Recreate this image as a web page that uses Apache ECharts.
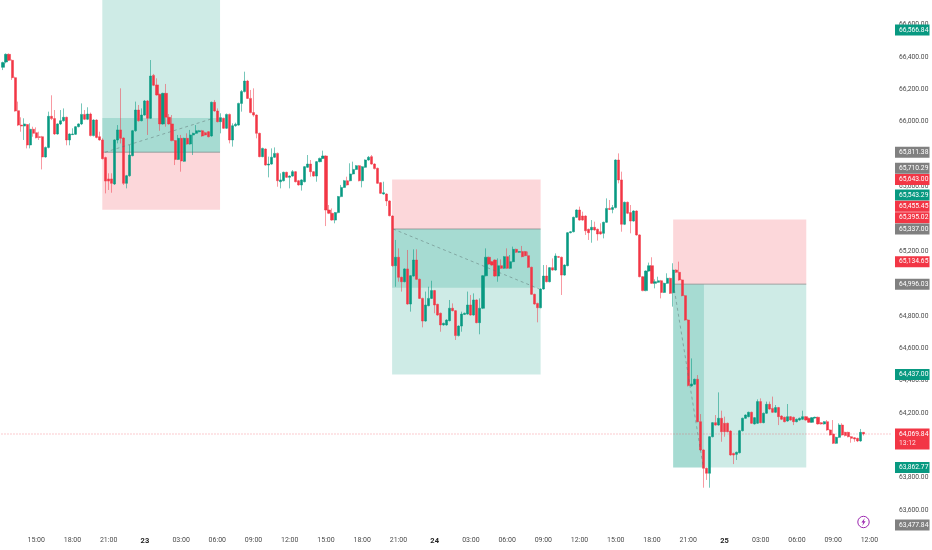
<!DOCTYPE html>
<html>
<head>
<meta charset="utf-8">
<style>html,body{margin:0;padding:0;background:#fff}#c{width:932px;height:550px}</style>
<script src="https://cdn.jsdelivr.net/npm/echarts@6/dist/echarts.min.js"></script>
</head>
<body>
<div id="c"></div>
<script>
const opens = [
66336,66369,66416,66379,66272,66068,65979,65973,65982,65856,
65953,65932,65907,65907,65782,65841,66033,66019,65924,65986,
66006,66027,65887,65920,65922,65969,65986,66045,66015,66047,
65914,66010,65907,65887,65778,65646,65646,65615,65887,65949,
65899,65619,65666,65790,65944,66072,66006,66041,66128,66021,
66286,66227,66169,65986,66175,66027,65986,65883,65767,65897,
65755,65897,65862,65918,65928,65938,65944,65932,65938,65912,
66120,66066,66000,66021,65959,66045,65887,65975,65979,66113,
66186,66251,66144,66056,66041,65928,65784,65831,65732,65738,
65780,65804,65629,65635,65687,65656,65664,65691,65635,65609,
65629,65718,65738,65691,65664,65753,65773,65788,65454,65434,
65392,65438,65537,65594,65635,65635,65677,65705,65728,65635,
65718,65763,65784,65738,65712,65623,65553,65553,65510,65417,
65110,65162,65038,65011,65090,64873,65046,65145,65026,64908,
64768,64863,64908,64956,64871,64816,64744,64744,64770,64847,
64832,64678,64737,64809,64811,64867,64805,64898,64758,64847,
65048,65162,65135,65145,65046,65110,65094,65166,65094,65135,
65211,65193,65197,65197,65172,65100,64933,64877,64850,64966,
65046,65011,65098,65083,65166,65162,65052,65110,65314,65320,
65409,65454,65417,65417,65335,65331,65347,65335,65320,65310,
65378,65464,65458,65469,65763,65640,65366,65502,65438,65386,
65448,65300,65042,64956,65077,65110,65001,65007,65017,64945,
65001,65032,64943,65083,65069,65022,64925,64774,64367,64377,
64408,64146,63971,63858,63827,64053,64140,64125,64167,64136,
64136,64088,63950,63944,63954,64090,64167,64177,64204,64132,
64136,64270,64140,64198,64253,64228,64204,64233,64181,64173,
64150,64177,64173,64146,64156,64161,64177,64167,64142,64169,
64173,64140,64132,64146,64095,64070,64012,64049,64125,64080,
64080,64053,64047,64043,64027,64080];
const closes = [
66365,66416,66379,66272,66066,65979,65973,65986,65856,65953,
65928,65901,65903,65782,65841,66033,66019,65924,65986,66006,
66027,65887,65924,65924,65969,65986,66045,66015,66047,65914,
66010,65903,65887,65771,65633,65633,65619,65887,65949,65897,
65619,65666,65794,65944,66072,66006,66041,66128,66021,66282,
66225,66165,65986,66175,66027,65986,65883,65767,65897,65757,
65897,65862,65918,65928,65944,65944,65912,65918,65907,66120,
66066,66000,66025,65959,66045,65887,65975,65984,66113,66186,
66251,66144,66056,66041,65928,65784,65835,65732,65738,65780,
65804,65635,65640,65687,65656,65664,65691,65629,65609,65640,
65722,65738,65691,65664,65753,65773,65788,65454,65434,65392,
65438,65537,65594,65635,65609,65677,65705,65728,65635,65722,
65763,65780,65738,65710,65619,65557,65561,65510,65419,65110,
65162,65038,65011,65090,64873,65048,65145,65026,64908,64768,
64867,64908,64956,64867,64805,64744,64754,64774,64847,64832,
64678,64737,64811,64816,64867,64805,64898,64758,64847,65048,
65162,65120,65114,65046,65110,65094,65166,65094,65135,65211,
65193,65197,65166,65172,65100,64933,64873,64850,64966,65046,
65011,65098,65083,65170,65162,65052,65114,65314,65320,65409,
65454,65392,65392,65326,65314,65347,65331,65306,65306,65378,
65464,65458,65469,65763,65640,65366,65502,65434,65386,65448,
65300,65042,64956,65077,65110,65001,65011,65017,64945,65001,
65032,64939,65083,65069,65022,64925,64774,64369,64379,64408,
64146,63971,63858,63827,64053,64140,64125,64167,64084,64084,
64084,63940,63940,63957,64090,64167,64187,64204,64136,64171,
64270,64140,64198,64253,64224,64204,64233,64177,64161,64146,
64177,64156,64146,64161,64167,64177,64156,64142,64171,64173,
64132,64132,64146,64095,64064,64012,64049,64125,64064,64060,
64053,64043,64039,64027,64080,64069.84];
const lows = [
66319,66361,66375,66258,66062,65973,65938,65887,65835,65835,
65907,65897,65887,65705,65778,65835,66010,65918,65920,65979,
66000,65854,65854,65918,65918,65965,65979,66010,66010,65909,
65909,65897,65883,65767,65557,65578,65561,65609,65866,65866,
65609,65588,65660,65786,65938,66000,66002,66037,65918,66017,
66220,66161,65944,65982,65969,65982,65879,65732,65763,65691,
65751,65858,65858,65794,65924,65934,65907,65914,65903,65907,
66062,65996,65928,65955,65955,65866,65846,65969,65975,66062,
66181,66140,66052,66031,65897,65780,65780,65728,65656,65734,
65776,65598,65588,65631,65652,65588,65660,65625,65605,65574,
65625,65714,65660,65660,65629,65749,65769,65355,65429,65388,
65372,65434,65533,65590,65605,65631,65673,65701,65631,65594,
65714,65759,65734,65705,65615,65553,65549,65479,65415,65104,
64980,65011,64950,65007,64869,64826,65042,65022,64904,64729,
64764,64859,64904,64816,64801,64702,64739,64739,64766,64828,
64651,64673,64702,64805,64807,64801,64801,64754,64686,64842,
65044,65116,65110,65042,65011,65090,65090,65090,65090,65131,
65189,65189,65162,65168,65096,64929,64869,64760,64847,64962,
65007,65007,65079,65079,65158,64929,65048,65106,65310,65316,
65405,65388,65388,65300,65269,65252,65326,65265,65302,65279,
65374,65454,65434,65464,65619,65320,65361,65429,65310,65382,
65296,65038,64952,64952,65073,64997,64970,65003,64908,64941,
64997,64935,64857,65065,65017,64921,64770,64364,64362,64373,
64142,63967,63738,63786,63738,64049,64121,64121,64022,64053,
64080,63936,63884,63909,63950,64086,64163,64173,64132,64128,
64132,64136,64136,64194,64220,64200,64200,64125,64156,64142,
64146,64152,64125,64142,64152,64156,64152,64138,64138,64165,
64128,64128,64128,64090,64060,64008,64008,64045,64060,64055,
64049,64016,64022,64020,64022,64060];
const highs = [
66371,66422,66422,66385,66278,66124,66027,66021,65986,65990,
65969,65965,65938,65912,65846,66062,66163,66072,65990,66072,
66082,66031,65928,65959,65973,65990,66113,66072,66089,66056,
66015,66015,65938,65897,65784,65681,65681,65891,65979,66206,
65903,65671,65856,65949,66124,66103,66082,66134,66134,66381,
66295,66268,66173,66179,66233,66047,66041,65887,65918,65918,
65901,65928,65949,65932,65979,65949,65949,65938,65942,66124,
66134,66082,66052,66025,66050,66050,65990,65994,66117,66196,
66309,66258,66196,66206,66045,65932,65839,65835,65784,65835,
65841,65809,65681,65691,65691,65668,65701,65695,65640,65644,
65726,65794,65763,65695,65757,65778,65821,65792,65485,65464,
65442,65541,65609,65640,65660,65743,65753,65732,65732,65726,
65767,65788,65794,65743,65716,65627,65629,65557,65514,65421,
65269,65217,65042,65094,65207,65052,65211,65211,65030,64912,
64950,64980,65017,64960,64875,64820,64758,64779,64898,64877,
64836,64741,64826,64820,64950,64929,64939,64902,64908,65052,
65217,65166,65139,65149,65155,65149,65170,65217,65176,65228,
65215,65201,65232,65201,65197,65104,64937,64881,64970,65114,
65114,65102,65155,65186,65170,65166,65118,65318,65324,65413,
65458,65475,65444,65421,65339,65392,65382,65339,65372,65382,
65526,65516,65485,65767,65804,65691,65506,65506,65485,65452,
65452,65304,65046,65081,65129,65162,65026,65042,65022,65005,
65063,65036,65125,65088,65135,65026,64929,64779,64537,64412,
64434,64193,63975,63862,64057,64144,64187,64327,64214,64177,
64140,64093,63954,63961,64095,64171,64191,64208,64208,64175,
64284,64290,64202,64270,64270,64301,64249,64237,64185,64177,
64255,64181,64177,64165,64171,64214,64181,64171,64175,64177,
64177,64144,64150,64156,64099,64156,64053,64136,64136,64084,
64084,64057,64051,64047,64101,64078];
const tickLabels = ['15:00','18:00','21:00','23','03:00','06:00','09:00','12:00','15:00','18:00','21:00','24','03:00','06:00','09:00','12:00','15:00','18:00','21:00','25','03:00','06:00','09:00','12:00'];
const priceTicks = [63600,63800,64000,64200,64400,64600,64800,65000,65200,65400,65600,65800,66000,66200,66400,66600];
const tagValues = [66566.84,65811.38,65710.29,65643.00,65543.29,65455.45,65395.02,65337.00,65134.65,64996.03,64437.00,64069.84,63862.77,63477.84];
const tagKinds = ['up','flat','flat','down','up','down','down','flat','down','flat','up','down','up','flat'];
const countdown = '13:12';
const lastPrice = 64069.84;
const zoneStart = [33.4,33.4,33.4,129.4,129.4,129.4,222.5,222.5,222.5];
const zoneEnd = [72.4,72.4,72.4,178.6,178.6,178.6,266.6,266.6,232.7];
const zoneTop = [66752,65811.38,66023,65643,65337,65337,65395.02,64996.03,64996.03];
const zoneBottom = [65811.38,65455.45,65811.38,65337,64437,64974,64996.03,63862.77,63862.77];
const zoneKinds = ['profit','loss','progress','loss','profit','progress','loss','profit','progress'];
const entryStart = [33.4,129.4,222.5];
const entryEnd = [72.4,178.6,266.6];
const entryPrice = [65811.38,65337,64996.03];
const tradePathX = [[34.3,69.5],[129.7,178.2],[222.6,232.5]];
const tradePathY = [[65811,66017],[65337,64966],[64996,63862]];

const UP='#089981', DOWN='#f23645', FLAT='#808080';
const SLOTS = 295;
const categories = new Array(SLOTS).fill('').map((_, i) => {
  const k = (i - 11) / 12;
  return (i >= 11 && Number.isInteger(k) && tickLabels[k]) ? tickLabels[k] : '';
});
const candleData = opens.map((o, i) => [o, closes[i], lows[i], highs[i]]);
const zoneFill = {
  profit:'rgba(8,153,129,0.2)',
  loss:'rgba(242,54,69,0.2)',
  progress:'rgba(8,153,129,0.2)'
};
const chart = echarts.init(document.getElementById('c'), null, {renderer:'canvas'});
const tagFill = {up:UP,down:DOWN,flat:FLAT};
const FONT = 'Roboto, sans-serif';
const fmt = v => v.toLocaleString('en-US',{minimumFractionDigits:2,maximumFractionDigits:2});
chart.setOption({
  animation:false,
  backgroundColor:'#fff',
  grid:{left:0,top:0,width:892,height:522},
  xAxis:[
    {type:'category',data:categories,boundaryGap:true,
     axisLine:{show:false},axisTick:{show:false},splitLine:{show:false},
     axisLabel:{interval:0,margin:15,fontSize:7,color:'#4a4a4a',fontFamily:FONT,hideOverlap:false,
       formatter:v=>v.length===2?`{d|${v}}`:v,
       rich:{d:{fontSize:7.5,fontWeight:'bold',color:'#222',fontFamily:FONT}}}},
    {type:'value',min:0,max:SLOTS,show:false}
  ],
  yAxis:{type:'value',position:'right',min:63526,max:66752,
    axisLine:{show:false},axisTick:{show:false},splitLine:{show:false},
    axisLabel:{customValues:priceTicks,margin:7,fontSize:6.7,color:'#4a4a4a',fontFamily:FONT,align:'left',formatter:fmt}},
  series:[
    {type:'custom',name:'zones',xAxisIndex:1,yAxisIndex:0,z:1,silent:true,
     data:zoneKinds.map((k,i)=>[zoneStart[i],zoneEnd[i],zoneTop[i],zoneBottom[i],i]),
     renderItem:(p,api)=>{
       const a=api.coord([api.value(0),api.value(2)]), b=api.coord([api.value(1),api.value(3)]);
       return {type:'rect',shape:{x:a[0],y:a[1],width:b[0]-a[0],height:b[1]-a[1]},
         style:{fill:zoneFill[zoneKinds[api.value(4)]]}};
     }},
    {type:'custom',name:'entries',xAxisIndex:1,yAxisIndex:0,z:1,silent:true,
     data:entryPrice.map((v,i)=>[entryStart[i],entryEnd[i],v]),
     renderItem:(p,api)=>{
       const a=api.coord([api.value(0),api.value(2)]), b=api.coord([api.value(1),api.value(2)]);
       return {type:'line',shape:{x1:a[0],y1:a[1],x2:b[0],y2:b[1]},style:{stroke:'rgba(110,120,120,0.6)',lineWidth:1}};
     }},
    {type:'candlestick',name:'price',xAxisIndex:0,yAxisIndex:0,z:3,barWidth:2.6,data:candleData,
     itemStyle:{color:UP,color0:DOWN,borderColor:'rgba(8,153,129,0.55)',borderColor0:'rgba(242,54,69,0.5)',borderWidth:1}},
    ...tradePathX.map((xs,k)=>({type:'line',xAxisIndex:1,yAxisIndex:0,z:4,silent:true,symbol:'none',
      data:xs.map((x,j)=>[x,tradePathY[k][j]]),
      lineStyle:{color:'rgba(90,110,110,0.6)',width:0.8,type:[3,3]}})),
    {type:'line',name:'last',xAxisIndex:1,yAxisIndex:0,z:2,silent:true,symbol:'none',
     data:[[0,lastPrice],[SLOTS,lastPrice]],
     lineStyle:{color:'rgba(242,54,69,0.75)',width:0.7,type:[1,2]}},
    {type:'custom',name:'tags',xAxisIndex:1,yAxisIndex:0,z:6,silent:true,clip:false,
     data:tagValues.map((v,i)=>[0,v,i]),
     renderItem:(p,api)=>{
       const raw=tagValues.map(v=>api.coord([0,v])[1]);
       const shown=raw.slice();
       for(let k=raw.length-1;k>=0;k--){
         shown[k]=Math.min(raw[k],k<raw.length-1?shown[k+1]-11.3:525);
       }
       const i=api.value(2), y=shown[i], val=tagValues[i];
       const hasCountdown=val===lastPrice;
       const h=hasCountdown?21:11;
       const kids=[
         {type:'rect',shape:{x:895,y:y-5.5,width:34.5,height:h},style:{fill:tagFill[tagKinds[i]]}},
         {type:'text',style:{x:899,y:y,text:fmt(val),fill:'#fff',font:'6.7px '+FONT,align:'left',verticalAlign:'middle'}}
       ];
       if(hasCountdown){kids.push({type:'text',style:{x:899,y:y+9.5,text:countdown,fill:'rgba(255,255,255,0.85)',font:'6.7px '+FONT,align:'left',verticalAlign:'middle'}});}
       return {type:'group',children:kids};
     }}
  ],
  graphic:[
    {type:'circle',shape:{cx:863.5,cy:522,r:5.7},style:{fill:'#fff',stroke:'#9c27b0',lineWidth:1},z:10},
    {type:'polygon',shape:{points:[[864.8,518],[861.4,522.6],[863.3,522.6],[862.2,526],[865.6,521.3],[863.7,521.3]]},style:{fill:'#9c27b0'},z:11}
  ]
});
</script>
</body>
</html>
